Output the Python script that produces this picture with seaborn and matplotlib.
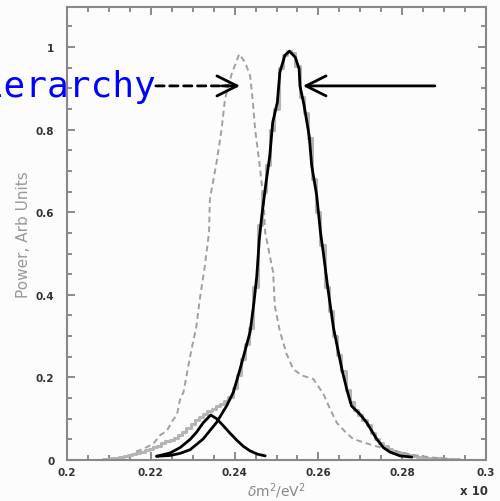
import numpy as np
import pandas as pd
import matplotlib
matplotlib.use("Agg")
import matplotlib.pyplot as plt
import seaborn as sns
from matplotlib.ticker import MultipleLocator

# ---- data ----
hist_x = [round(0.200 + 0.001 * i, 3) for i in range(97)]
hist_y = [0.000, 0.000, 0.000, 0.000, 0.000, 0.000, 0.000, 0.000, 0.001, 0.002,
          0.003, 0.005, 0.006, 0.008, 0.010, 0.012, 0.014, 0.017, 0.019, 0.023,
          0.027, 0.031, 0.035, 0.040, 0.045, 0.049, 0.053, 0.060, 0.068, 0.077,
          0.086, 0.096, 0.105, 0.112, 0.118, 0.124, 0.130, 0.135, 0.142, 0.152,
          0.175, 0.205, 0.245, 0.280, 0.320, 0.420, 0.570, 0.650, 0.715, 0.800,
          0.850, 0.950, 0.980, 0.990, 0.985, 0.955, 0.880, 0.840, 0.780, 0.680,
          0.600, 0.520, 0.420, 0.360, 0.300, 0.255, 0.215, 0.170, 0.140, 0.120,
          0.110, 0.097, 0.085, 0.065, 0.052, 0.040, 0.033, 0.027, 0.022, 0.019,
          0.016, 0.014, 0.012, 0.010, 0.008, 0.007, 0.006, 0.005, 0.004, 0.004,
          0.003, 0.003, 0.002, 0.002, 0.001, 0.001, 0.000]

fit_x = [0.2214, 0.2246, 0.2270, 0.2294, 0.2325, 0.2357, 0.2381, 0.2397, 0.2413,
         0.2425, 0.2437, 0.2446, 0.2453, 0.2459, 0.2465, 0.2475, 0.2484, 0.2491,
         0.2502, 0.2508, 0.2520, 0.2531, 0.2545, 0.2554, 0.2556, 0.2566, 0.2578,
         0.2584, 0.2596, 0.2605, 0.2612, 0.2622, 0.2636, 0.2656, 0.2668, 0.2679,
         0.2700, 0.2715, 0.2739, 0.2755, 0.2771, 0.2795, 0.2823]
fit_y = [0.009, 0.011, 0.016, 0.025, 0.051, 0.091, 0.131, 0.164, 0.220,
         0.265, 0.310, 0.380, 0.446, 0.535, 0.592, 0.672, 0.737, 0.818,
         0.866, 0.939, 0.980, 0.990, 0.975, 0.947, 0.906, 0.858, 0.785,
         0.713, 0.640, 0.551, 0.500, 0.420, 0.320, 0.220, 0.170, 0.131,
         0.110, 0.091, 0.051, 0.030, 0.019, 0.010, 0.007]

alt_x = [0.2165, 0.2182, 0.2198, 0.2206, 0.2222, 0.2238, 0.2254, 0.2262, 0.2270,
         0.2278, 0.2294, 0.2309, 0.2317, 0.2329, 0.2339, 0.2341, 0.2357, 0.2369,
         0.2377, 0.2393, 0.2411, 0.2425, 0.2437, 0.2443, 0.2449, 0.2459, 0.2469,
         0.2473, 0.2492, 0.2496, 0.2508, 0.2524, 0.2540, 0.2560, 0.2588, 0.2612,
         0.2628, 0.2644, 0.2667, 0.2683, 0.2731, 0.2779, 0.2826, 0.2870, 0.2920]
alt_y = [0.020, 0.027, 0.035, 0.039, 0.060, 0.070, 0.099, 0.107, 0.148,
         0.164, 0.252, 0.325, 0.390, 0.470, 0.551, 0.632, 0.721, 0.801,
         0.874, 0.935, 0.983, 0.963, 0.931, 0.874, 0.801, 0.721, 0.632,
         0.551, 0.454, 0.373, 0.312, 0.257, 0.220, 0.205, 0.196, 0.160,
         0.123, 0.090, 0.065, 0.051, 0.035, 0.023, 0.012, 0.006, 0.002]

peak_x = [0.2214, 0.2246, 0.2270, 0.2294, 0.2309, 0.2325, 0.2343, 0.2357, 0.2373,
          0.2389, 0.2405, 0.2421, 0.2437, 0.2455, 0.2473]
peak_y = [0.009, 0.017, 0.030, 0.050, 0.067, 0.090, 0.109, 0.100, 0.083,
          0.065, 0.048, 0.033, 0.022, 0.014, 0.010]

xticks = [0.2, 0.22, 0.24, 0.26, 0.28, 0.3]
xtick_labels = ["0.2", "0.22", "0.24", "0.26", "0.28", "0.3"]
yticks = [0, 0.2, 0.4, 0.6, 0.8, 1.0]
ytick_labels = ["0", "0.2", "0.4", "0.6", "0.8", "1"]

# ---- figure ----
sns.set_theme(style="ticks")
plt.rcParams['font.family'] = ['DejaVu Sans']

fig = plt.figure(figsize=(5.0, 5.02), dpi=100, facecolor="#fcfcfc")
ax = fig.add_axes([0.134, 0.0817, 0.838, 0.9023])
ax.set_facecolor("#fcfcfc")

sns.lineplot(x=hist_x, y=hist_y, ax=ax, color="#b4b4b4", lw=2.2,
             drawstyle="steps-mid", estimator=None, sort=False)
sns.lineplot(x=alt_x, y=alt_y, ax=ax, color="#a0a0a0", lw=1.4,
             linestyle=(0, (3, 2)), estimator=None, sort=False)
sns.lineplot(x=fit_x, y=fit_y, ax=ax, color="black", lw=2.0,
             estimator=None, sort=False)
sns.lineplot(x=peak_x, y=peak_y, ax=ax, color="black", lw=2.0,
             estimator=None, sort=False)

ax.set_xlim(0.2, 0.3)
ax.set_ylim(0, 1.097)
ax.set_xticks(xticks)
ax.set_xticklabels(xtick_labels)
ax.set_yticks(yticks)
ax.set_yticklabels(ytick_labels)
ax.xaxis.set_minor_locator(MultipleLocator(0.005))
ax.yaxis.set_minor_locator(MultipleLocator(0.05))
ax.tick_params(which="both", direction="in", top=True, right=True,
               color="#777777", width=1.2)
ax.tick_params(which="major", length=6, labelsize=7.5, labelcolor="#333333")
ax.tick_params(axis="x", which="major", pad=5)
ax.tick_params(axis="y", which="major", pad=9)
ax.tick_params(which="minor", length=3.5)
for lab in ax.get_xticklabels() + ax.get_yticklabels():
    lab.set_fontweight("bold")
for sp in ax.spines.values():
    sp.set_color("#888888")
    sp.set_linewidth(1.5)

ax.set_ylabel("Power, Arb Units", color="#999999", fontsize=11)
ax.yaxis.set_label_coords(-0.085, 0.5)
ax.set_xlabel(r"$\delta$m$^2$/eV$^2$", color="#888888", fontsize=10)
ax.xaxis.set_label_coords(0.5, -0.045)
fig.text(0.92, 0.008, "x 10", color="#333333", fontsize=8.5, fontweight="bold",
         ha="left", va="bottom")

# annotations
ax.text(0.2212, 0.881, "hierarchy", color="#0000ff", fontsize=26,
        family="DejaVu Sans Mono", ha="right", va="baseline")
ax.annotate("", xy=(0.2385, 0.906), xytext=(0.2212, 0.906),
            arrowprops=dict(arrowstyle="-", linestyle=(0, (3, 2)), lw=2,
                            color="black", shrinkA=0, shrinkB=0))
ax.annotate("", xy=(0.2413, 0.906), xytext=(0.2370, 0.906),
            arrowprops=dict(arrowstyle="->,head_length=0.4,head_width=0.2",
                            lw=2, color="black", mutation_scale=36,
                            shrinkA=0, shrinkB=0))
ax.annotate("", xy=(0.2563, 0.906), xytext=(0.2878, 0.906),
            arrowprops=dict(arrowstyle="->,head_length=0.4,head_width=0.2",
                            lw=2, color="black", mutation_scale=36,
                            shrinkA=0, shrinkB=0))

fig.savefig("out.png", dpi=100, facecolor=fig.get_facecolor())
